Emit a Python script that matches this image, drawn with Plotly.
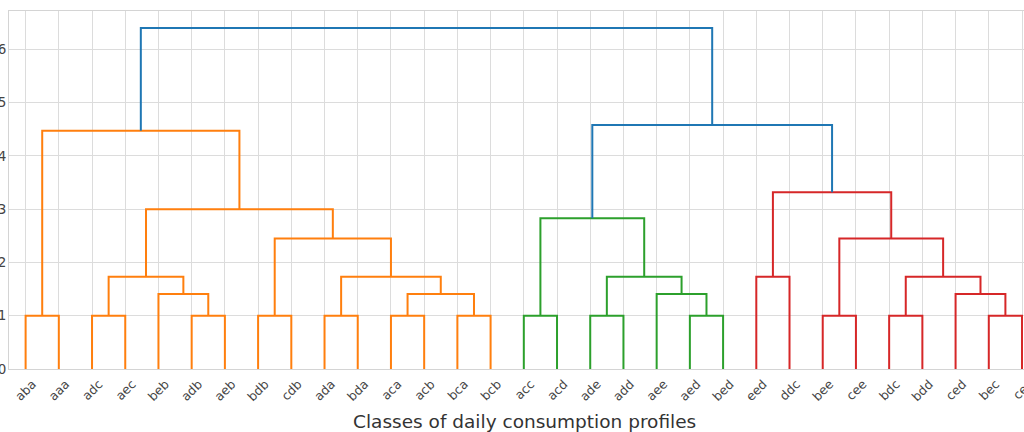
import plotly.graph_objects as go

# Leaf labels in dendrogram order
leaf_labels = ["aba", "aaa", "adc", "aec", "beb", "adb", "aeb", "bdb", "cdb",
               "ada", "bda", "aca", "acb", "bca", "bcb", "acc", "acd", "ade",
               "add", "aee", "aed", "bed", "eed", "ddc", "bee", "cee", "bdc",
               "bdd", "ced", "bec", "cec"]

# Linkage (scipy convention): ids < n are leaves, id n+k is the k-th merge
merge_left = [0, 2, 5, 7, 9, 11, 13, 15, 17, 20, 24, 26, 29,
              4, 36, 19, 28,
              32, 35, 39, 22, 42,
              34, 41,
              38,
              48,
              51,
              31,
              55,
              58]
merge_right = [1, 3, 6, 8, 10, 12, 14, 16, 18, 21, 25, 27, 30,
               33, 37, 40, 43,
               44, 45, 46, 23, 47,
               49, 52,
               50,
               53,
               54,
               56,
               57,
               59]
merge_height = [1.0, 1.0, 1.0, 1.0, 1.0, 1.0, 1.0, 1.0, 1.0, 1.0, 1.0, 1.0, 1.0,
                1.41, 1.41, 1.41, 1.41,
                1.73, 1.73, 1.73, 1.73, 1.73,
                2.45, 2.45,
                2.83,
                3.0,
                3.32,
                4.47,
                4.58,
                6.40]

palette = ["#ff7f0e", "#2ca02c", "#d62728", "#9467bd", "#8c564b"]
above_color = "#1f77b4"

n = len(leaf_labels)
leaf_x = [5 + 10 * i for i in range(n)]
top_height = max(merge_height)
color_threshold = 0.7 * top_height

# position and height of every node
node_x = {i: leaf_x[i] for i in range(n)}
node_h = {i: 0.0 for i in range(n)}
for k, (a, b, h) in enumerate(zip(merge_left, merge_right, merge_height)):
    node_x[n + k] = (node_x[a] + node_x[b]) / 2
    node_h[n + k] = h

# assign colours: each maximal subtree below the threshold gets its own colour
link_color = {}
counter = [0]


def paint(node, col):
    if node < n:
        return
    k = node - n
    if col is None and merge_height[k] < color_threshold:
        col = palette[counter[0] % len(palette)]
        counter[0] += 1
    link_color[k] = col if col is not None else above_color
    paint(merge_left[k], col)
    paint(merge_right[k], col)


paint(n + len(merge_height) - 1, None)

segments = {}
for k, (a, b, h) in enumerate(zip(merge_left, merge_right, merge_height)):
    xs, ys = segments.setdefault(link_color[k], ([], []))
    xs += [node_x[a], node_x[a], node_x[b], node_x[b], None]
    ys += [node_h[a], h, h, node_h[b], None]

fig = go.Figure()
for col, (xs, ys) in segments.items():
    fig.add_trace(go.Scatter(x=xs, y=ys, mode="lines",
                             line=dict(color=col, width=2),
                             hoverinfo="skip", showlegend=False))

grid = "#dcdcdc"
fig.update_layout(
    width=1024, height=432,
    margin=dict(l=9, r=0, t=11, b=63),
    paper_bgcolor="white", plot_bgcolor="white",
    font=dict(family="DejaVu Sans", color="#333333"),
    xaxis=dict(
        range=[0, 305.6], tickmode="array", tickvals=leaf_x,
        ticktext=leaf_labels, tickangle=-45,
        tickfont=dict(size=12.5, color="#444444"),
        # rotated labels sit centred under their leaf
        ticklabelshift=7, ticklabelstandoff=2,
        ticklabeloverflow="allow", automargin=False,
        showgrid=True, gridcolor=grid, gridwidth=1, zeroline=False,
        showline=True, linecolor="#d4d4d4", linewidth=1, mirror=True,
        ticks="",
    ),
    yaxis=dict(
        range=[0, 6.72], dtick=1, tick0=0,
        tickfont=dict(size=13.5, color="#444444"),
        ticklabeloverflow="allow", automargin=False, ticklabelstandoff=-1,
        showgrid=True, gridcolor=grid, gridwidth=1, zeroline=False,
        showline=True, linecolor="#d4d4d4", linewidth=1, ticks="",
    ),
    annotations=[dict(
        text="Classes of daily consumption profiles",
        xref="paper", yref="paper", x=0.508, y=-0.148,
        xanchor="center", yanchor="middle", showarrow=False,
        font=dict(size=18.5, color="#333333"),
    )],
)

fig.write_html("out.html")
